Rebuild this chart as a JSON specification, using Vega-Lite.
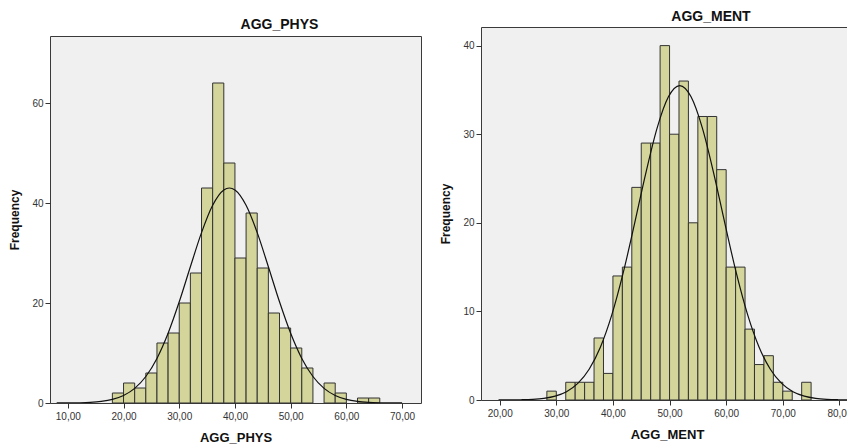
{
  "$schema": "https://vega.github.io/schema/vega-lite/v6.json",
  "padding": {"left": 8, "top": 9, "right": 0, "bottom": 0},
  "background": "white",
  "spacing": 17,
  "datasets": {
    "physBins": [
      {"start": 18, "end": 20, "count": 2},
      {"start": 20, "end": 22, "count": 4},
      {"start": 22, "end": 24, "count": 3},
      {"start": 24, "end": 26, "count": 6},
      {"start": 26, "end": 28, "count": 12},
      {"start": 28, "end": 30, "count": 14},
      {"start": 30, "end": 32, "count": 20},
      {"start": 32, "end": 34, "count": 26},
      {"start": 34, "end": 36, "count": 43},
      {"start": 36, "end": 38, "count": 64},
      {"start": 38, "end": 40, "count": 48},
      {"start": 40, "end": 42, "count": 29},
      {"start": 42, "end": 44, "count": 38},
      {"start": 44, "end": 46, "count": 27},
      {"start": 46, "end": 48, "count": 18},
      {"start": 48, "end": 50, "count": 15},
      {"start": 50, "end": 52, "count": 11},
      {"start": 52, "end": 54, "count": 7},
      {"start": 56, "end": 58, "count": 4},
      {"start": 58, "end": 60, "count": 2},
      {"start": 62, "end": 64, "count": 1},
      {"start": 64, "end": 66, "count": 1}
    ],
    "physCurve": [
      {"x": 8, "y": 0.006}, {"x": 10, "y": 0.017}, {"x": 12, "y": 0.049}, {"x": 14, "y": 0.128},
      {"x": 16, "y": 0.313}, {"x": 18, "y": 0.71}, {"x": 20, "y": 1.495}, {"x": 22, "y": 2.92},
      {"x": 24, "y": 5.3}, {"x": 26, "y": 8.92}, {"x": 28, "y": 13.95}, {"x": 30, "y": 20.24},
      {"x": 32, "y": 27.25}, {"x": 34, "y": 34.07}, {"x": 36, "y": 39.54}, {"x": 38, "y": 42.6},
      {"x": 39, "y": 43.0}, {"x": 40, "y": 42.6}, {"x": 42, "y": 39.54}, {"x": 44, "y": 34.07},
      {"x": 46, "y": 27.25}, {"x": 48, "y": 20.24}, {"x": 50, "y": 13.95}, {"x": 52, "y": 8.92},
      {"x": 54, "y": 5.3}, {"x": 56, "y": 2.92}, {"x": 58, "y": 1.495}, {"x": 60, "y": 0.71},
      {"x": 62, "y": 0.313}, {"x": 64, "y": 0.128}, {"x": 66, "y": 0.049}, {"x": 68, "y": 0.017},
      {"x": 70, "y": 0.006}
    ],
    "mentBins": [
      {"start": 28.333, "end": 30, "count": 1},
      {"start": 31.667, "end": 33.333, "count": 2},
      {"start": 33.333, "end": 35, "count": 2},
      {"start": 35, "end": 36.667, "count": 2},
      {"start": 36.667, "end": 38.333, "count": 7},
      {"start": 38.333, "end": 40, "count": 3},
      {"start": 40, "end": 41.667, "count": 14},
      {"start": 41.667, "end": 43.333, "count": 15},
      {"start": 43.333, "end": 45, "count": 24},
      {"start": 45, "end": 46.667, "count": 29},
      {"start": 46.667, "end": 48.333, "count": 29},
      {"start": 48.333, "end": 50, "count": 40},
      {"start": 50, "end": 51.667, "count": 30},
      {"start": 51.667, "end": 53.333, "count": 36},
      {"start": 53.333, "end": 55, "count": 20},
      {"start": 55, "end": 56.667, "count": 32},
      {"start": 56.667, "end": 58.333, "count": 32},
      {"start": 58.333, "end": 60, "count": 26},
      {"start": 60, "end": 61.667, "count": 15},
      {"start": 61.667, "end": 63.333, "count": 15},
      {"start": 63.333, "end": 65, "count": 8},
      {"start": 65, "end": 66.667, "count": 4},
      {"start": 66.667, "end": 68.333, "count": 5},
      {"start": 68.333, "end": 70, "count": 2},
      {"start": 70, "end": 71.667, "count": 1},
      {"start": 73.333, "end": 75, "count": 2}
    ],
    "mentCurve": [
      {"x": 19.8, "y": 0.003}, {"x": 21.8, "y": 0.01}, {"x": 23.8, "y": 0.029}, {"x": 25.8, "y": 0.077},
      {"x": 27.8, "y": 0.19}, {"x": 29.8, "y": 0.438}, {"x": 31.8, "y": 0.938}, {"x": 33.8, "y": 1.871},
      {"x": 35.8, "y": 3.47}, {"x": 37.8, "y": 5.98}, {"x": 39.8, "y": 9.6}, {"x": 41.8, "y": 14.31},
      {"x": 43.8, "y": 19.85}, {"x": 45.8, "y": 25.59}, {"x": 47.8, "y": 30.69}, {"x": 49.8, "y": 34.22},
      {"x": 51.8, "y": 35.49}, {"x": 53.8, "y": 34.22}, {"x": 55.8, "y": 30.69}, {"x": 57.8, "y": 25.59},
      {"x": 59.8, "y": 19.85}, {"x": 61.8, "y": 14.31}, {"x": 63.8, "y": 9.6}, {"x": 65.8, "y": 5.98},
      {"x": 67.8, "y": 3.47}, {"x": 69.8, "y": 1.871}, {"x": 71.8, "y": 0.938}, {"x": 73.8, "y": 0.438},
      {"x": 75.8, "y": 0.19}, {"x": 77.8, "y": 0.077}, {"x": 79.8, "y": 0.029}, {"x": 81.8, "y": 0.01}
    ]
  },
  "config": {
    "font": "Liberation Sans",
    "view": {"fill": "#f0f0f0", "stroke": "#3a3a3a", "strokeWidth": 1},
    "axis": {
      "grid": false,
      "domain": false,
      "tickColor": "#333",
      "tickSize": 5,
      "labelFont": "Liberation Sans",
      "labelFontSize": 10,
      "labelColor": "#333",
      "labelPadding": 2,
      "titleFont": "Liberation Sans",
      "titleFontWeight": "bold",
      "titleColor": "#111"
    },
    "title": {"font": "Liberation Sans", "fontSize": 14, "fontWeight": "bold", "color": "#111", "offset": 3}
  },
  "hconcat": [
    {
      "spacing": 0,
      "vconcat": [
        {
          "width": 371,
          "height": 8,
          "title": {"text": "AGG_PHYS", "dx": 44, "offset": -5},
          "view": {"stroke": null, "fill": null},
          "data": {"values": [{}]},
          "mark": {"type": "point", "opacity": 0}
        },
        {
          "width": 371,
          "height": 367,
          "layer": [
            {
              "data": {"name": "physBins"},
              "mark": {"type": "rect", "fill": "#d3d59b", "stroke": "#333", "strokeWidth": 1},
              "encoding": {
                "x": {"field": "start", "type": "quantitative", "scale": {"domain": [6.8, 73.4], "nice": false, "zero": false},
                  "axis": {"values": [10, 20, 30, 40, 50, 60, 70], "labelExpr": "replace(format(datum.value, '.2f'), '.', ',')", "title": "AGG_PHYS", "titleFontSize": 13, "titlePadding": 10, "labelPadding": 3}},
                "x2": {"field": "end"},
                "y": {"field": "count", "type": "quantitative", "scale": {"domain": [0, 73.4], "nice": false},
                  "axis": {"values": [0, 20, 40, 60], "title": "Frequency", "titleFontSize": 12, "titlePadding": 10}}
              }
            },
            {
              "data": {"name": "physCurve"},
              "mark": {"type": "line", "color": "#111", "strokeWidth": 1.2, "interpolate": "monotone", "clip": true},
              "encoding": {
                "x": {"field": "x", "type": "quantitative"},
                "y": {"field": "y", "type": "quantitative"}
              }
            }
          ]
        }
      ]
    },
    {
      "width": 372,
      "height": 373,
      "title": {"text": "AGG_MENT", "dx": 44},
      "layer": [
        {
          "data": {"name": "mentBins"},
          "mark": {"type": "rect", "fill": "#d3d59b", "stroke": "#333", "strokeWidth": 1},
          "encoding": {
            "x": {"field": "start", "type": "quantitative", "scale": {"domain": [16.7, 82.4], "nice": false, "zero": false},
              "axis": {"values": [20, 30, 40, 50, 60, 70, 80], "labelExpr": "replace(format(datum.value, '.2f'), '.', ',')", "title": "AGG_MENT", "titleFontSize": 13, "titlePadding": 10, "labelPadding": 3}},
            "x2": {"field": "end"},
            "y": {"field": "count", "type": "quantitative", "scale": {"domain": [0, 42.1], "nice": false},
              "axis": {"values": [0, 10, 20, 30, 40], "title": "Frequency", "titleFontSize": 12, "titlePadding": 10}}
          }
        },
        {
          "data": {"name": "mentCurve"},
          "mark": {"type": "line", "color": "#111", "strokeWidth": 1.2, "interpolate": "monotone", "clip": true},
          "encoding": {
            "x": {"field": "x", "type": "quantitative"},
            "y": {"field": "y", "type": "quantitative"}
          }
        }
      ]
    }
  ]
}
